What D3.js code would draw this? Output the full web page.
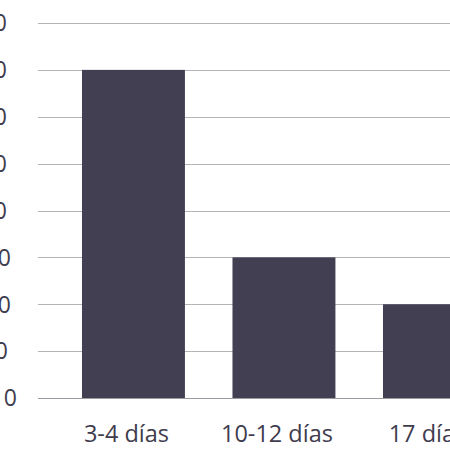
<!DOCTYPE html>
<html><head><meta charset="utf-8">
<script src="https://cdn.jsdelivr.net/npm/d3@7"></script>
<style>html,body{margin:0;padding:0;background:#fff;overflow:hidden}</style>
</head><body>
<svg id="c" width="450" height="450"></svg>
<script>
const categories = ["3-4 días", "10-12 días", "17 días"];
const values = [70, 30, 20];
const tickValues = [0, 10, 20, 30, 40, 50, 60, 70, 80];
const tickLabels = ["0", "10", "20", "30", "40", "50", "60", "70", "80"];

// layout (not data): right edge of each y label as seen in the cropped reference
const labelEndX = [17, 8, 11, 11, 7, 7, 7, 7, 7];

const svg = d3.select("#c");
const font = "'Open Sans', 'Noto Sans', sans-serif";
const y = d3.scaleLinear().domain([0, 80]).range([398, 23]);
const x = d3.scaleBand().domain(categories).range([58.2, 509.7]).paddingInner(0.316).paddingOuter(0.158);

// gridlines
svg.append("g").selectAll("line").data(tickValues).join("line")
  .attr("x1", 38).attr("x2", 450)
  .attr("y1", d => Math.round(y(d)) + 0.5).attr("y2", d => Math.round(y(d)) + 0.5)
  .attr("stroke", d => d === 0 ? "#9a9aa0" : "#b4b4b8").attr("stroke-width", 1);

// y labels
svg.append("g").selectAll("text").data(tickValues).join("text")
  .attr("x", (d, i) => labelEndX[i]).attr("y", d => y(d))
  .attr("dy", "0.36em").attr("text-anchor", "end")
  .attr("font-family", font).attr("font-size", 23).attr("fill", "#3f3c4e")
  .text((d, i) => tickLabels[i]);

// bars
svg.append("g").selectAll("rect").data(values).join("rect")
  .attr("x", (d, i) => x(categories[i])).attr("width", x.bandwidth())
  .attr("y", d => y(d)).attr("height", d => y(0) - y(d))
  .attr("fill", "#423f52");

// x labels
svg.append("g").selectAll("text").data(categories).join("text")
  .attr("x", d => x(d) + x.bandwidth() / 2 - 7).attr("y", 442)
  .attr("text-anchor", "middle")
  .attr("font-family", font).attr("font-size", 23.5).attr("fill", "#3f3c4e")
  .text(d => d);
</script>
</body></html>
